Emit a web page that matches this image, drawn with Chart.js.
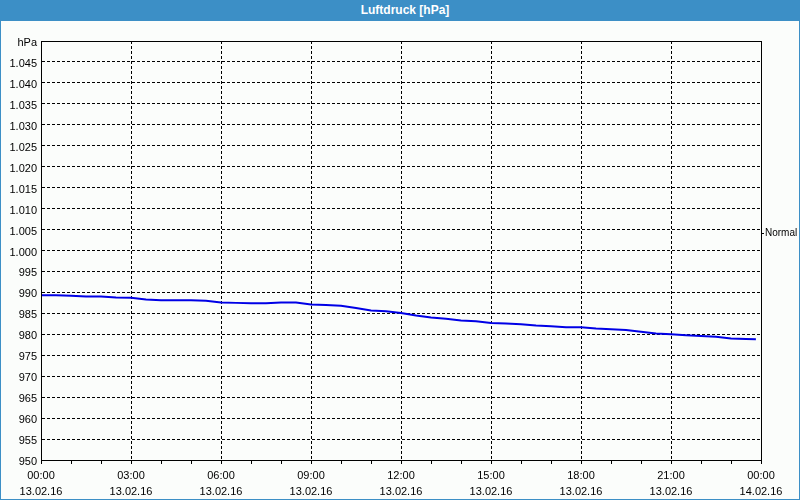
<!DOCTYPE html>
<html>
<head>
<meta charset="utf-8">
<script src="https://cdn.jsdelivr.net/npm/chart.js@4"></script>
<style>
    body { margin: 0; background: #fff; }
    #frame {
        position: relative; width: 800px; height: 500px; box-sizing: border-box;
        border: 1px solid #3c8fc6; background: #fbfdfb;
    }
    #titleBar {
        position: absolute; left: -1px; top: -1px; width: 800px; height: 21px;
        background: #3c8fc6; color: #fff; text-align: center;
        font: bold 12px "Liberation Sans", Arial, sans-serif; line-height: 21px;
        padding-left: 10px; box-sizing: border-box;
    }
    #pressureChart { position: absolute; left: 0; top: 20px; }
</style>
</head>
<body>
<div id="frame">
    <div id="titleBar">Luftdruck [hPa]</div>
    <canvas id="pressureChart" width="798" height="478"></canvas>
</div>
<script>
// hours since 13.02.16 00:00
const hours = [0, 0.5, 1, 1.5, 2, 2.5, 3, 3.5, 4, 4.5, 5, 5.5, 6, 6.5, 7, 7.5,
    8, 8.5, 9, 9.5, 10, 10.5, 11, 11.5, 12, 12.5, 13, 13.5, 14, 14.5, 15, 15.5,
    16, 16.5, 17, 17.5, 18, 18.5, 19, 19.5, 20, 20.5, 21, 21.5, 22, 22.5, 23, 23.5, 23.83];
const pressure = [989.3, 989.3, 989.2, 989.0, 989.0, 988.8, 988.7, 988.3, 988.1, 988.1,
    988.1, 988.0, 987.6, 987.5, 987.4, 987.4, 987.6, 987.6, 987.1, 987.0, 986.8, 986.3,
    985.7, 985.5, 985.1, 984.5, 984.0, 983.7, 983.3, 983.1, 982.7, 982.6, 982.4, 982.1,
    981.9, 981.7, 981.7, 981.4, 981.2, 981.0, 980.6, 980.2, 980.0, 979.8, 979.6, 979.4,
    979.0, 978.9, 978.8];

const timeLabels = ['00:00', '03:00', '06:00', '09:00', '12:00', '15:00', '18:00', '21:00', '00:00'];
const dateLabels = ['13.02.16', '13.02.16', '13.02.16', '13.02.16', '13.02.16',
    '13.02.16', '13.02.16', '13.02.16', '14.02.16'];
const yMin = 950, yMax = 1050, yStep = 5;
const unitLabel = 'hPa';
const normalLevel = 1004;
const normalLabel = 'Normal';

Chart.defaults.font.family = '"Liberation Sans", Arial, sans-serif';
Chart.defaults.font.size = 11;
Chart.defaults.color = '#000';

function fmt(v) {
    // German thousands separator
    return v >= 1000 ? Math.floor(v / 1000) + '.' + String(v % 1000).padStart(3, '0') : String(v);
}

const frameBox = {
    id: 'frameBox',
    afterDraw(chart) {
        const a = chart.chartArea, c = chart.ctx;
        c.save();
        c.strokeStyle = '#000';
        c.lineWidth = 1;
        c.strokeRect(Math.round(a.left) + 0.5, Math.round(a.top) + 0.5,
            Math.round(a.right - a.left), Math.round(a.bottom - a.top));
        c.restore();
    }
};

new Chart(document.getElementById('pressureChart'), {
    type: 'line',
    data: {
        datasets: [{
            data: hours.map((h, i) => ({x: h, y: pressure[i]})),
            borderColor: '#0000e6',
            borderWidth: 2,
            pointRadius: 0,
            tension: 0
        }]
    },
    options: {
        responsive: false,
        animation: false,
        layout: {padding: {top: 20, left: 0, right: 0, bottom: 0}, autoPadding: false},
        plugins: {legend: {display: false}, tooltip: {enabled: false}},
        scales: {
            x: {
                type: 'linear', min: 0, max: 24,
                afterFit: s => { s.height = 39; },
                ticks: {
                    stepSize: 1, autoSkip: false, maxRotation: 0, padding: 4,
                    font: {lineHeight: 1.45},
                    callback: v => v % 3 === 0 ? [timeLabels[v / 3], dateLabels[v / 3]] : ''
                },
                grid: {
                    color: ctx => (ctx.tick && ctx.tick.value % 3 === 0) ? '#000' : 'rgba(0,0,0,0)',
                    tickColor: '#000', tickLength: 4, tickBorderDash: []
                },
                border: {color: '#000', dash: [3, 2]}
            },
            y: {
                type: 'linear', min: yMin, max: yMax, position: 'left',
                afterFit: s => { s.width = 40; },
                ticks: {
                    stepSize: yStep, padding: 4, labelOffset: 2,
                    callback: v => v === yMax ? unitLabel : fmt(v)
                },
                grid: {color: '#000', drawTicks: false},
                border: {color: '#000', dash: [3, 2]}
            },
            normal: {
                type: 'linear', min: yMin, max: yMax, position: 'right',
                afterFit: s => { s.width = 38; },
                afterBuildTicks: s => { s.ticks = [{value: normalLevel}]; },
                ticks: {padding: 1, font: {size: 10}, callback: () => normalLabel},
                grid: {drawOnChartArea: false, tickLength: 3, color: '#000'},
                border: {color: '#000'}
            }
        }
    },
    plugins: [frameBox]
});
</script>
</body>
</html>
